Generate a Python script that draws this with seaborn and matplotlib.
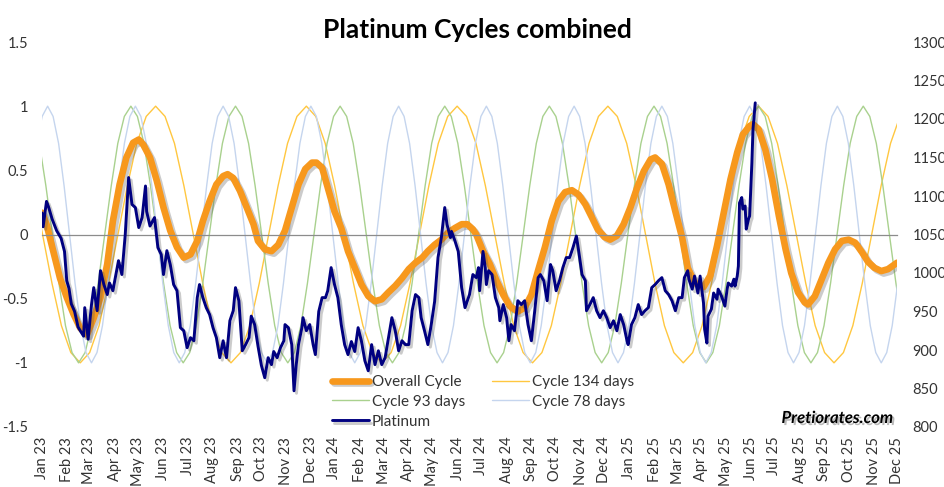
import numpy as np
import pandas as pd
import matplotlib
matplotlib.use("Agg")
import matplotlib.pyplot as plt
import matplotlib.patheffects as pe
from matplotlib.lines import Line2D
import seaborn as sns

# ---------------- data ----------------
# x values are trading-day numbers (weekdays counted from Mon 2 Jan 2023)
month_labels = ["Jan 23", "Feb 23", "Mar 23", "Apr 23", "May 23", "Jun 23", "Jul 23", "Aug 23",
                "Sep 23", "Oct 23", "Nov 23", "Dec 23", "Jan 24", "Feb 24", "Mar 24", "Apr 24",
                "May 24", "Jun 24", "Jul 24", "Aug 24", "Sep 24", "Oct 24", "Nov 24", "Dec 24",
                "Jan 25", "Feb 25", "Mar 25", "Apr 25", "May 25", "Jun 25", "Jul 25", "Aug 25",
                "Sep 25", "Oct 25", "Nov 25", "Dec 25"]
month_starts = pd.date_range("2023-01-01", "2025-12-01", freq="MS")

# one period of the pure cycles, peaks at +1, troughs at -1
cycle_shape = [1.0, 0.92, 0.71, 0.38, 0.0, -0.38, -0.71, -0.92,
               -1.0, -0.92, -0.71, -0.38, 0.0, 0.38, 0.71, 0.92]
cycle_periods = [134, 93, 78]          # trading days
cycle_first_peak = [101, 79, 5]         # trading day of first peak in the window
cycle_names = ["Cycle 134 days", "Cycle 93 days", "Cycle 78 days"]

overall_day = [0, 4, 10, 16, 22, 28, 34, 40, 46, 52, 58, 63, 69, 75, 81, 86, 90, 96, 102, 108,
               114, 120, 126, 132, 138, 143, 149, 155, 161, 165, 170, 176, 182, 188, 192, 198,
               204, 210, 216, 222, 228, 234, 240, 244, 249, 254, 260, 266, 272, 278, 284, 290,
               296, 302, 308, 314, 320, 326, 332, 338, 343, 349, 355, 361, 367, 373, 378, 383,
               386, 392, 398, 404, 410, 416, 423, 429, 435, 441, 447, 453, 459, 465, 471, 477,
               483, 489, 494, 500, 505, 511, 517, 523, 529, 535, 541, 545, 551, 557, 563, 569,
               574, 580, 588, 594, 600, 606, 612, 618, 623, 629, 632, 637, 643, 649, 655, 661,
               666, 672, 678, 681, 687, 693, 699, 705, 711, 717, 723, 729, 734, 740, 746, 752, 760]
overall_val = [0.17, 0.08, -0.13, -0.34, -0.49, -0.62, -0.73, -0.78, -0.65, -0.49, -0.23, 0.105,
               0.39, 0.60, 0.715, 0.74, 0.70, 0.60, 0.42, 0.21, 0.03, -0.10, -0.18, -0.155, -0.05,
               0.105, 0.26, 0.39, 0.455, 0.47, 0.44, 0.34, 0.21, 0.08, -0.05, -0.115, -0.13, -0.08,
               0.03, 0.21, 0.39, 0.51, 0.56, 0.56, 0.52, 0.365, 0.18, 0.05, -0.13, -0.26, -0.39,
               -0.48, -0.52, -0.505, -0.45, -0.40, -0.34, -0.27, -0.22, -0.18, -0.13, -0.08, -0.04,
               0.015, 0.05, 0.08, 0.08, 0.04, 0.0, -0.13, -0.23, -0.36, -0.47, -0.56, -0.60, -0.57,
               -0.47, -0.28, -0.10, 0.105, 0.26, 0.33, 0.345, 0.31, 0.235, 0.13, 0.04, -0.02, -0.04,
               -0.01, 0.08, 0.21, 0.365, 0.495, 0.585, 0.60, 0.55, 0.39, 0.18, -0.025, -0.26, -0.375,
               -0.41, -0.32, -0.09, 0.17, 0.43, 0.64, 0.78, 0.845, 0.86, 0.82, 0.66, 0.43, 0.145,
               -0.115, -0.30, -0.45, -0.53, -0.545, -0.48, -0.35, -0.22, -0.115, -0.05, -0.04,
               -0.065, -0.14, -0.21, -0.26, -0.285, -0.27, -0.22]

plat_day = [0, 1, 4, 6, 9, 13, 17, 20, 22, 24, 26, 29, 32, 34, 37, 38, 41, 44, 46, 49, 52, 55, 58,
            60, 63, 68, 71, 74, 77, 80, 83, 86, 89, 92, 93, 96, 100, 103, 106, 108, 111, 114, 117,
            120, 123, 126, 129, 132, 135, 138, 140, 143, 146, 149, 152, 155, 158, 161, 164, 167,
            170, 172, 175, 178, 181, 184, 186, 189, 192, 195, 198, 201, 204, 206, 209, 212, 215,
            216, 219, 222, 224, 226, 228, 231, 232, 235, 238, 241, 243, 246, 249, 252, 254, 257,
            260, 263, 266, 269, 272, 275, 278, 281, 284, 287, 290, 293, 296, 299, 302, 305, 308,
            311, 314, 317, 320, 323, 326, 329, 332, 335, 337, 340, 343, 346, 349, 352, 355, 358,
            360, 363, 364, 367, 370, 373, 376, 379, 380, 383, 386, 388, 389, 392, 394, 395, 397,
            400, 403, 406, 407, 410, 413, 415, 417, 420, 423, 426, 429, 432, 435, 438, 441, 443,
            446, 449, 452, 454, 457, 460, 463, 466, 469, 472, 475, 477, 480, 483, 484, 487, 490,
            493, 496, 499, 502, 505, 508, 511, 514, 517, 520, 521, 524, 527, 530, 533, 536, 539,
            542, 545, 548, 551, 554, 557, 560, 563, 566, 569, 571, 574, 575, 578, 580, 583, 585,
            588, 589, 591, 592, 595, 597, 600, 601, 604, 607, 609, 610, 613, 615, 616, 618, 619,
            620, 622, 623, 625, 626, 628, 629, 631, 632, 634]
plat_price = [1078, 1060, 1093, 1085, 1070, 1055, 1045, 1028, 990, 980, 960, 950, 930, 925, 918, 955,
              914, 959, 981, 951, 1003, 985, 972, 987, 977, 1016, 998, 1050, 1124, 1089, 1085, 1059,
              1072, 1113, 1080, 1061, 1072, 1033, 1024, 998, 1029, 1011, 985, 977, 929, 925, 903,
              916, 912, 968, 985, 968, 955, 946, 929, 916, 890, 912, 890, 938, 951, 981, 964, 899,
              907, 916, 944, 933, 905, 880, 864, 890, 881, 898, 890, 903, 912, 933, 929, 907, 847,
              881, 907, 929, 942, 925, 933, 907, 894, 950, 968, 968, 977, 1007, 985, 968, 933, 907,
              894, 911, 898, 929, 911, 886, 873, 907, 881, 899, 881, 890, 916, 942, 925, 899, 912,
              907, 907, 951, 972, 968, 942, 925, 907, 933, 963, 1020, 1046, 1085, 1063, 1046, 1054,
              1042, 1028, 981, 955, 968, 972, 998, 994, 1007, 977, 1028, 1007, 985, 1003, 998, 968,
              955, 938, 959, 942, 912, 933, 925, 964, 959, 964, 933, 912, 951, 994, 998, 990, 964,
              1011, 1003, 977, 990, 1007, 1020, 1020, 1033, 1048, 1029, 998, 990, 951, 959, 968,
              951, 942, 951, 942, 929, 938, 925, 946, 933, 912, 907, 933, 942, 959, 946, 951, 955,
              981, 985, 990, 994, 977, 972, 964, 951, 968, 968, 994, 1003, 992, 979, 996, 974, 996,
              961, 927, 909, 944, 953, 974, 966, 979, 970, 957, 979, 987, 983, 992, 983, 996, 1009,
              1091, 1098, 1083, 1087, 1057, 1070, 1074, 1143, 1187, 1221]

# ---------------- style ----------------
sns.set_style("white")
plt.rcParams["font.family"] = ["Lato", "DejaVu Sans"]

C_OVERALL = "#F7981D"
C_134 = "#FFC740"
C_93 = "#A9D18E"
C_78 = "#C5D5EE"
C_PLAT = "#000080"
GRAY = "#8C8C8C"

first_day = np.datetime64("2023-01-02")
first_bdays = np.busday_offset(month_starts.values.astype("datetime64[D]"), 0, roll="forward")
tick_pos = np.busday_count(first_day, first_bdays)
x_end = int(tick_pos[-1])

fig = plt.figure(figsize=(9.45, 4.87), dpi=100)
ax = fig.add_axes([42 / 945, 60 / 487, 855 / 945, 385 / 487])
ax2 = ax.twinx()

# pure cycles
for period, p0, name, col in zip(cycle_periods, cycle_first_peak, cycle_names, [C_134, C_93, C_78]):
    k0 = int(np.floor((0 - p0) * 16 / period)) - 1
    k1 = int(np.ceil((x_end - p0) * 16 / period)) + 1
    ks = np.arange(k0, k1 + 1)
    xs = p0 + ks * period / 16.0
    ys = np.array(cycle_shape)[ks % 16]
    sns.lineplot(x=xs, y=ys, ax=ax, color=col, linewidth=1.0, legend=False)

# overall cycle
shadow = [pe.SimpleLineShadow(offset=(1.8, -1.8), shadow_color="#555555", alpha=0.3), pe.Normal()]
sns.lineplot(x=np.array(overall_day), y=np.array(overall_val), ax=ax, color=C_OVERALL,
             linewidth=4.8, legend=False)
ax.lines[-1].set_path_effects(shadow)
ax.lines[-1].set_solid_capstyle("round")

# platinum (right axis)
sns.lineplot(x=np.array(plat_day), y=np.array(plat_price), ax=ax2, color=C_PLAT,
             linewidth=2.1, legend=False)
ax2.lines[-1].set_path_effects(shadow)

# axes limits & ticks
ax.set_xlim(0, x_end)
ax.set_ylim(-1.5, 1.5)
ax2.set_ylim(800, 1300)
ax.set_yticks([-1.5, -1, -0.5, 0, 0.5, 1, 1.5])
ax.set_yticklabels(["-1.5", "-1", "-0.5", "0", "0.5", "1", "1.5"])
ax2.set_yticks(np.arange(800, 1301, 50))
ax.tick_params(axis="y", length=0, pad=10, labelsize=10.5, labelcolor="#333333")
ax2.tick_params(axis="y", length=0, pad=11, labelsize=10.5, labelcolor="#333333")

for a in (ax, ax2):
    for s in a.spines.values():
        s.set_visible(False)
ax.spines["bottom"].set_visible(True)
ax.spines["bottom"].set_position(("data", 0))
ax.spines["bottom"].set_color(GRAY)
ax.spines["bottom"].set_linewidth(0.9)
ax.set_xticks(tick_pos)
ax.tick_params(axis="x", length=5, width=0.8, color=GRAY, direction="out", labelbottom=False)
ax.set_xlabel("")
ax.set_ylabel("")
ax2.set_ylabel("")

secax = ax.secondary_xaxis("bottom")
secax.set_xticks(tick_pos)
secax.set_xticklabels(month_labels)
secax.tick_params(length=0, pad=7, labelsize=10.5, labelrotation=90, labelcolor="#333333")
for s in secax.spines.values():
    s.set_visible(False)

# legend
handles = [
    Line2D([], [], color=C_OVERALL, lw=4.8, path_effects=shadow),
    Line2D([], [], color=C_93, lw=1.0),
    Line2D([], [], color=C_PLAT, lw=2.1, path_effects=shadow),
    Line2D([], [], color=C_134, lw=1.0),
    Line2D([], [], color=C_78, lw=1.0),
]
labels = ["Overall Cycle", cycle_names[1], "Platinum", cycle_names[0], cycle_names[2]]
leg = ax2.legend(handles, labels, ncol=2, frameon=False, loc="upper left",
                 bbox_to_anchor=(332 / 945, 1 - 375 / 487), bbox_transform=fig.transFigure,
                 fontsize=11, handlelength=2.4, handletextpad=0.2, columnspacing=1.8,
                 labelspacing=0.38, borderpad=0, borderaxespad=0)
for t in leg.get_texts():
    t.set_color("#333333")

# title and watermark
fig.text(477 / 945, 1 - 30 / 487, "Platinum Cycles combined", ha="center", va="center",
         fontsize=19, fontweight="bold", color="black")
fig.text(893 / 945, 1 - 418 / 487, "Pretiorates.com", ha="right", va="center",
         fontsize=12, fontweight="bold", fontstyle="italic", color="black",
         path_effects=[pe.withSimplePatchShadow(offset=(1.5, -1.5), shadow_rgbFace="#777777", alpha=0.5)])

fig.savefig("out.png", dpi=100)
